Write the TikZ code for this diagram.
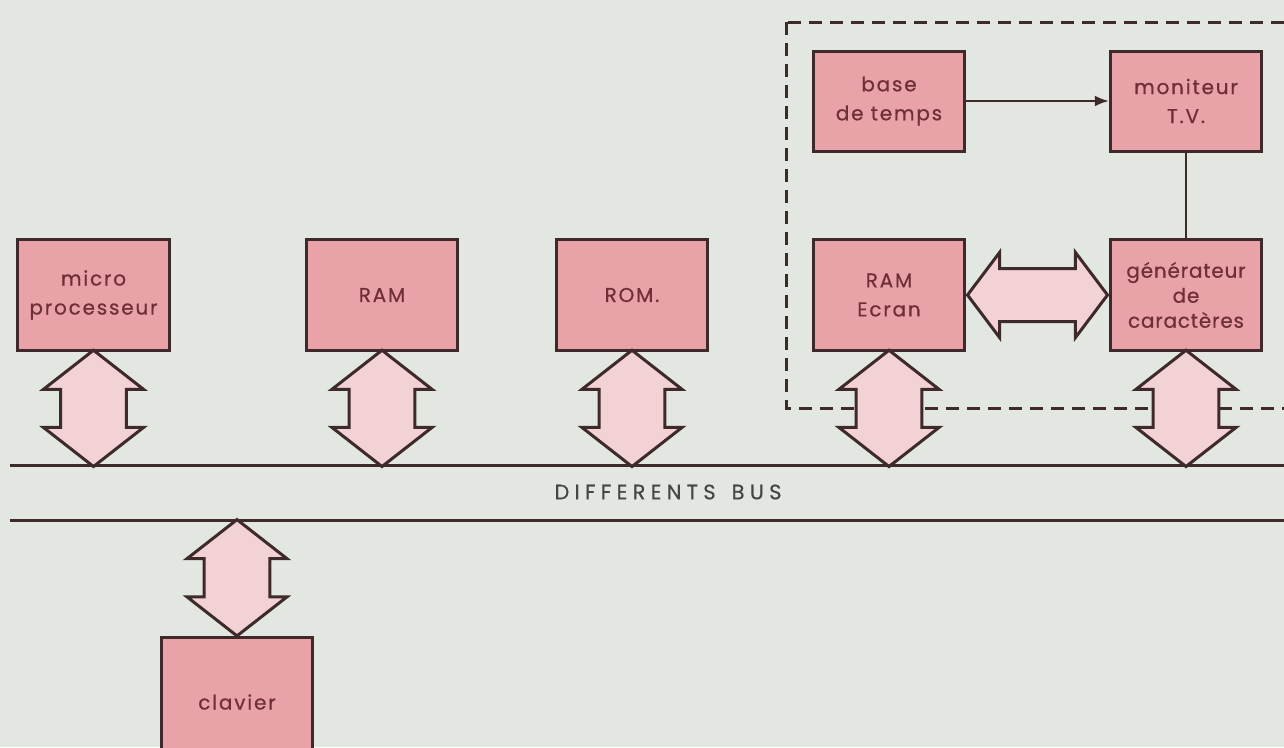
\documentclass[tikz,border=0pt]{standalone}
\usepackage{fontspec}
\setmainfont{Poppins}
\usetikzlibrary{positioning,calc,shapes.arrows,arrows.meta}
\definecolor{bgcol}{RGB}{226,231,225}
\definecolor{boxfill}{RGB}{232,162,168}
\definecolor{arrfill}{RGB}{242,210,212}
\definecolor{ink}{RGB}{62,42,42}
\definecolor{boxtext}{RGB}{110,48,52}
\definecolor{bustext}{RGB}{70,70,68}

\begin{document}
\begin{tikzpicture}[x=1pt,y=-1pt]
\tikzstyle{unit}=[rectangle, draw=ink, line width=3pt, fill=boxfill, minimum width=151.5pt, minimum height=110.5pt, inner sep=0pt, align=center, text=boxtext, font=\fontsize{20}{29}\selectfont\addfontfeature{LetterSpace=9,FakeBold=0.6}]
\tikzstyle{busarrow}=[double arrow, draw=ink, line width=3pt, fill=arrfill, rotate=90, inner sep=31pt, minimum width=100pt, minimum height=110pt, double arrow head extend=17pt, double arrow tip angle=104]
\tikzstyle{busline}=[draw=ink, line width=3pt]
\tikzstyle{connect}=[draw=ink, line width=2pt]
  \clip (0,0) rectangle (1284,747);
  \fill[bgcol] (0,0) rectangle (1284,747);
  % units on the bus
  \node[unit] (micro) at (93.5,295) {micro\\processeur};
  \node[unit] (ram) [right=134pt of micro] {RAM};
  \node[unit] (rom) [right=95.5pt of ram] {ROM.};
  \node[unit] (ramecran) [right=102.5pt of rom] {RAM\\Ecran};
  \node[unit] (gen) [right=142.5pt of ramecran, font=\fontsize{20}{25}\selectfont\addfontfeature{LetterSpace=4,FakeBold=0.6}] {générateur\\de\\caractères};
  \node[unit, minimum height=100pt] (base) at (889,101) {base\\de temps};
  \node[unit, minimum height=100pt] (moni) [right=142.5pt of base] {moniteur\\T.V.};
  \node[unit, minimum height=130pt] (clavier) at (237,702) {clavier};
  % bus
  \coordinate (bus1) at (10,465);
  \coordinate (bus1e) at (1290,465);
  \coordinate (bus2) at (10,520);
  \coordinate (bus2e) at (1290,520);
  \path[busline] (bus1) -- (bus1e);
  \path[busline] (bus2) -- (bus2e);
  \node[text=bustext, font=\fontsize{21}{24}\selectfont\addfontfeature{LetterSpace=25,FakeBold=0.5}] (buslbl) at (668,492) {DIFFERENTS\hspace{16pt}BUS};
  % video part
  \draw[ink, line width=3pt, dash pattern=on 13pt off 8pt] (786,22) rectangle (1300,408);
  \path[connect, -{Latex[length=14pt,width=11pt]}] (base.east) -- (moni.west);
  \path[connect] (moni.south) -- (moni.south |- gen.north);
  \node[busarrow, rotate=-90, inner sep=25pt, minimum height=140pt, minimum width=85pt, double arrow head extend=16pt, double arrow tip angle=106] (vid) at ($(ramecran.east)!.5!(gen.west)$) {};
  % bus arrows
  \foreach \u in {micro,ram,rom,ramecran,gen}
    \node[busarrow] (a-\u) at ($(\u.south)!.5!(\u.south |- bus1)$) {};
  \node[busarrow, minimum height=114pt] (a-clavier) at ($(clavier.north)!.5!(clavier.north |- bus2)$) {};
\end{tikzpicture}
\end{document}
